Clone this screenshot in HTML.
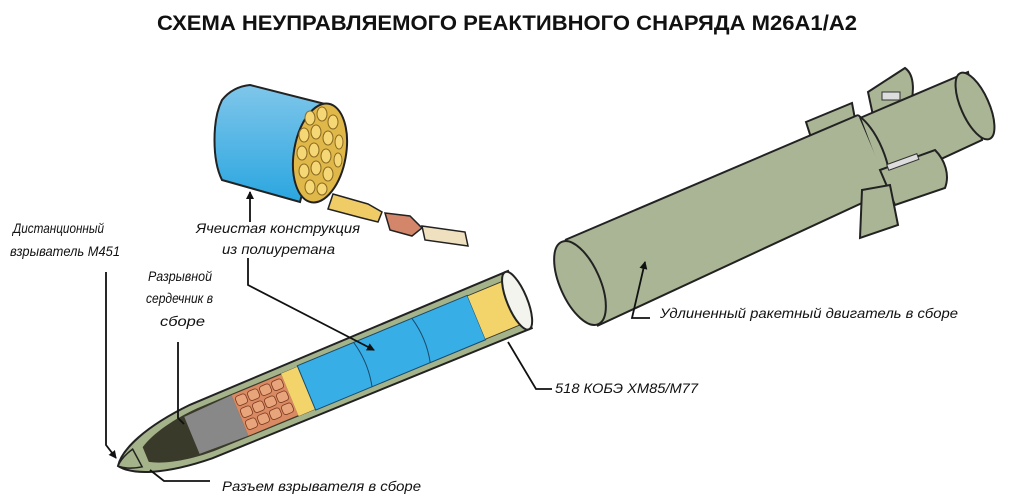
<!DOCTYPE html>
<html><head><meta charset="utf-8"><style>
html,body{margin:0;padding:0;background:#fff}
svg{display:block}
text{font-family:"Liberation Sans",sans-serif;font-style:italic;font-size:14px;fill:#111}
</style></head><body>
<svg width="1010" height="502" viewBox="0 0 1010 502" xmlns="http://www.w3.org/2000/svg">
<defs>
<marker id="ar" markerWidth="8" markerHeight="8" refX="7" refY="4" orient="auto" markerUnits="userSpaceOnUse"><path d="M0,0 L8,4 L0,8 z" fill="#111"/></marker>
<linearGradient id="bl" x1="0" y1="0" x2="0" y2="1"><stop offset="0" stop-color="#7fc6ea"/><stop offset="1" stop-color="#2aa6e0"/></linearGradient>
</defs>
<text x="157" y="30" style="font-style:normal;font-weight:bold;font-size:21px" textLength="700" lengthAdjust="spacingAndGlyphs">СХЕМА НЕУПРАВЛЯЕМОГО РЕАКТИВНОГО СНАРЯДА М26А1/А2</text>

<!-- Motor -->
<g stroke="#222" stroke-width="2">
  <path d="M868,92 L905,68 C915,75 915,95 908,110 L875,125 z" fill="#a9b594"/>
  <path d="M806,122 L852,103 L858,135 L815,150 z" fill="#a9b594"/>
  <path d="M860,118 L968,72 L982,140 L885,185 z" fill="#a9b594"/>
  <ellipse cx="975" cy="106" rx="14" ry="36" transform="rotate(-24 975 106)" fill="#a9b594"/>
  <path d="M565,240 L858,115 L890,190 L597,326 z" fill="#a9b594" stroke="none"/>
  <path d="M565,240 L858,115 M597,326 L890,190"/>
  <path d="M858,115 C878,130 892,165 890,190" fill="none"/>
  <ellipse cx="580" cy="283" rx="20" ry="45" transform="rotate(-24 580 283)" fill="#a9b594"/>
  <path d="M880,170 L935,150 C945,160 950,175 945,188 L895,205 z" fill="#a9b594"/>
  <path d="M862,190 L890,185 L898,225 L860,238 z" fill="#a9b594"/>
</g>
<rect x="882" y="92" width="18" height="8" fill="#ddd" stroke="#333"/>
<rect x="887" y="160" width="32" height="6" fill="#ddd" stroke="#333" transform="rotate(-20 900 163)"/>

<!-- Drum -->
<g stroke="#222" stroke-width="2">
  <path d="M250,85 L325,104 L300,202 L222,180 C212,160 212,120 222,100 C230,90 240,86 250,85 z" fill="url(#bl)"/>
  <ellipse cx="320" cy="153" rx="26" ry="50" transform="rotate(10 320 153)" fill="#e0b84a"/>
</g>
<g fill="#f5d776" stroke="#8a6a20" stroke-width="1">
  <ellipse cx="310" cy="118" rx="5" ry="7"/><ellipse cx="322" cy="114" rx="5" ry="7"/><ellipse cx="333" cy="122" rx="5" ry="7"/>
  <ellipse cx="304" cy="135" rx="5" ry="7"/><ellipse cx="316" cy="132" rx="5" ry="7"/><ellipse cx="328" cy="138" rx="5" ry="7"/><ellipse cx="339" cy="142" rx="4" ry="7"/>
  <ellipse cx="302" cy="153" rx="5" ry="7"/><ellipse cx="314" cy="150" rx="5" ry="7"/><ellipse cx="326" cy="156" rx="5" ry="7"/><ellipse cx="338" cy="160" rx="4" ry="7"/>
  <ellipse cx="304" cy="171" rx="5" ry="7"/><ellipse cx="316" cy="168" rx="5" ry="7"/><ellipse cx="328" cy="174" rx="5" ry="7"/>
  <ellipse cx="310" cy="187" rx="5" ry="7"/><ellipse cx="322" cy="189" rx="5" ry="6"/>
</g>
<g stroke="#222" stroke-width="1.5">
  <path d="M333,194 L368,204 L382,212 L378,222 L362,218 L328,209 z" fill="#f0cc66"/>
  <path d="M385,213 L410,216 L422,228 L412,236 L390,230 z" fill="#d4866a"/>
  <path d="M422,226 L465,232 L468,246 L425,240 z" fill="#efe0c0"/>
</g>

<!-- Warhead -->
<g transform="translate(118,466) rotate(-22.5)">
  <path d="M0,0 C10,-14 40,-26 90,-29 L435,-31 L435,31 L90,29 C40,26 10,14 0,0 z" fill="#a4b38a" stroke="#222" stroke-width="2"/>
  <path d="M30,-8 C45,-17 70,-22 95,-23 L432,-24 L432,24 L95,23 C70,22 45,17 30,8 z" fill="#3a3a2a"/>
  <path d="M80,-20 L132,-22 L132,22 L80,20 z" fill="#888"/>
  <rect x="132" y="-22" width="54" height="44" fill="#d98a62"/>
  <g fill="#e8a47a" stroke="#7a3a20" stroke-width="0.8">
    <rect x="134" y="-19" width="11" height="10" rx="3"/><rect x="147" y="-19" width="11" height="10" rx="3"/><rect x="160" y="-19" width="11" height="10" rx="3"/><rect x="173" y="-19" width="11" height="10" rx="3"/>
    <rect x="134" y="-6" width="11" height="10" rx="3"/><rect x="147" y="-6" width="11" height="10" rx="3"/><rect x="160" y="-6" width="11" height="10" rx="3"/><rect x="173" y="-6" width="11" height="10" rx="3"/>
    <rect x="134" y="7" width="11" height="10" rx="3"/><rect x="147" y="7" width="11" height="10" rx="3"/><rect x="160" y="7" width="11" height="10" rx="3"/><rect x="173" y="7" width="11" height="10" rx="3"/>
  </g>
  <rect x="186" y="-23" width="18" height="46" fill="#f3d46a"/>
  <rect x="204" y="-24" width="184" height="48" fill="#38aee6" stroke="#1a4a6a" stroke-width="1"/>
  <path d="M265,-24 C269,-8 269,8 265,24 M328,-24 C332,-8 332,8 328,24" stroke="#1a4a6a" fill="none"/>
  <rect x="388" y="-23" width="40" height="46" fill="#f3d46a"/>
  <ellipse cx="432" cy="0" rx="10" ry="31" fill="#f4f4ee" stroke="#222" stroke-width="2"/>
  <path d="M0,0 C5,-5 12,-8 20,-10 L22,10 C12,8 5,5 0,0 z" fill="#a4b38a" stroke="#222" stroke-width="1.5"/>
</g>

<!-- labels -->
<text x="13" y="233" textLength="91" lengthAdjust="spacingAndGlyphs">Дистанционный</text>
<text x="10" y="256" textLength="110" lengthAdjust="spacingAndGlyphs">взрыватель М451</text>
<text x="196" y="233" textLength="164" lengthAdjust="spacingAndGlyphs">Ячеистая конструкция</text>
<text x="222" y="254" textLength="113" lengthAdjust="spacingAndGlyphs">из полиуретана</text>
<text x="148" y="281" textLength="64" lengthAdjust="spacingAndGlyphs">Разрывной</text>
<text x="146" y="303" textLength="67" lengthAdjust="spacingAndGlyphs">сердечник в</text>
<text x="160" y="326" textLength="45" lengthAdjust="spacingAndGlyphs">сборе</text>
<text x="660" y="318" textLength="298" lengthAdjust="spacingAndGlyphs">Удлиненный ракетный двигатель в сборе</text>
<text x="555" y="393" textLength="143" lengthAdjust="spacingAndGlyphs">518 КОБЭ ХМ85/М77</text>
<text x="222" y="491" textLength="199" lengthAdjust="spacingAndGlyphs">Разъем взрывателя в сборе</text>

<g stroke="#111" stroke-width="1.8" fill="none">
  <path d="M106,272 L106,445 L116,458" marker-end="url(#ar)"/>
  <path d="M248,258 L248,285 L374,350" marker-end="url(#ar)"/>
  <path d="M250,222 L250,192" marker-end="url(#ar)"/>
  <path d="M178,342 L178,418 L184,424"/>
  <path d="M552,389 L536,389 L508,342"/>
  <path d="M210,481 L164,481 L150,470"/>
  <path d="M650,318 L632,318 L645,262" marker-end="url(#ar)"/>
</g>
</svg>
</body></html>
